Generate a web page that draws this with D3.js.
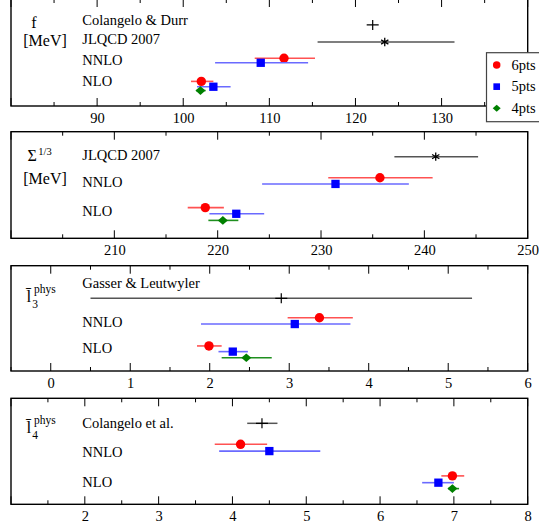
<!DOCTYPE html>
<html><head><meta charset="utf-8">
<script src="https://cdn.jsdelivr.net/npm/d3@7"></script>
<style>body{margin:0;background:#fff} svg text{font-family:'Liberation Serif','Tinos','Nimbus Roman','Times New Roman','DejaVu Serif',serif !important;fill:#000}</style>
</head><body><svg id="c" width="539" height="531" font-family="Liberation Serif"></svg>
<script>
// ---------- data ----------
const seriesNames = ["6pts", "5pts", "4pts"];

// panel 1 : f [MeV]
const fDomain = [80, 140];
const fTickLabels = [90, 100, 110, 120, 130];
const fRowNames = ["Colangelo & Durr", "JLQCD 2007", "NNLO", "NLO"];
const fRowPos = [3.99, 3.13, 2.15, 1.14];
// [series, value, low, high, row]
const fFits = [["6pts",111.7,108.3,115.3,2.23],["5pts",109.0,103.7,114.5,2.02],
               ["6pts",102.1,100.9,103.5,1.15],["5pts",103.5,101.6,105.5,0.90],["4pts",102.0,101.5,102.6,0.72]];
// [marker, value, low, high, row]
const fRefs = [["plus",122.0,null,null,3.79],["star",123.4,115.6,131.5,2.99]];

// panel 2 : Sigma^(1/3) [MeV]
const sDomain = [200, 250];
const sTickLabels = [210, 220, 230, 240, 250];
const sRowNames = ["JLQCD 2007", "NNLO", "NLO"];
const sRowPos = [3.88, 2.61, 1.28];
const sFits = [["6pts",235.7,230.7,240.8,2.84],["5pts",231.4,224.3,238.5,2.55],
               ["6pts",218.8,217.1,220.6,1.44],["5pts",221.8,219.2,224.5,1.15],["4pts",220.5,219.1,222.0,0.84]];
const sRefs = [["star",241.1,237.1,245.2,3.83]];

// panel 3 : l3 bar phys
const l3Domain = [-0.5, 6];
const l3TickLabels = [0, 1, 2, 3, 4, 5, 6];
const l3RowNames = ["Gasser & Leutwyler", "NNLO", "NLO"];
const l3RowPos = [4.15, 2.34, 1.09];
const l3Fits = [["6pts",3.38,2.98,3.80,2.53],["5pts",3.07,1.89,3.77,2.23],
                ["6pts",1.99,1.84,2.15,1.19],["5pts",2.29,2.11,2.48,0.92],["4pts",2.46,2.15,2.78,0.63]];
const l3Refs = [["plus",2.9,0.5,5.3,3.45]];

// panel 4 : l4 bar phys
const l4Domain = [1, 8];
const l4TickLabels = [2, 3, 4, 5, 6, 7, 8];
const l4RowNames = ["Colangelo et al.", "NNLO", "NLO"];
const l4RowPos = [3.83, 2.48, 1.05];
const l4Fits = [["6pts",4.11,3.76,4.47,2.83],["5pts",4.50,3.82,5.19,2.51],
                ["6pts",6.98,6.83,7.14,1.34],["5pts",6.79,6.57,7.00,1.02],["4pts",6.98,6.92,7.07,0.74]];
const l4Refs = [["plus",4.40,4.20,4.61,3.82]];

// ---------- style ----------
const FONT = "'Liberation Serif','Tinos','Nimbus Roman','Times New Roman','DejaVu Serif',serif";
const markColor = {"6pts":"#ff0000","5pts":"#0000ff","4pts":"#008000"};
const barColor = {"6pts":"#ff5252","5pts":"#6a6aff","4pts":"#1f8f1f"};
const left = 11, right = 527.7;
const panels = [
  {top:-1, bottom:106, domain:fDomain, step:5, labels:fTickLabels, rowNames:fRowNames, rowPos:fRowPos, fits:fFits, refs:fRefs, kind:"f"},
  {top:131.7, bottom:238.3, domain:sDomain, step:5, labels:sTickLabels, rowNames:sRowNames, rowPos:sRowPos, fits:sFits, refs:sRefs, kind:"s"},
  {top:265.7, bottom:371, domain:l3Domain, step:0.5, labels:l3TickLabels, rowNames:l3RowNames, rowPos:l3RowPos, fits:l3Fits, refs:l3Refs, kind:"l3"},
  {top:398.3, bottom:504.3, domain:l4Domain, step:0.5, labels:l4TickLabels, rowNames:l4RowNames, rowPos:l4RowPos, fits:l4Fits, refs:l4Refs, kind:"l4"}
];

const svg = d3.select("#c");

function drawMarker(g, series, x, y, scale) {
  const k = scale || 1;
  if (series === "6pts") {
    g.append("circle").attr("cx", x).attr("cy", y).attr("r", 4.7*k).attr("fill", markColor[series]);
  } else if (series === "5pts") {
    const s = 8.3*k;
    g.append("rect").attr("x", x-s/2).attr("y", y-s/2).attr("width", s).attr("height", s).attr("fill", markColor[series]);
  } else {
    const w = 5*k, h = 4.3*k;
    g.append("path").attr("d", `M${x-w},${y}L${x},${y-h}L${x+w},${y}L${x},${y+h}Z`).attr("fill", markColor[series]);
  }
}

panels.forEach(p => {
  const g = svg.append("g").attr("font-family", FONT);
  const x = d3.scaleLinear().domain(p.domain).range([left, right]);
  const y = d3.scaleLinear().domain([0, 5]).range([p.bottom, p.top]);
  const n = Math.round((p.domain[1]-p.domain[0])/p.step);
  const ticks = d3.range(n+1).map(i => p.domain[0] + i*p.step);
  const isMajor = v => Math.abs(v/(p.step*2) - Math.round(v/(p.step*2))) < 1e-6;

  g.selectAll("line.tb").data(ticks).join("line")
    .attr("x1", d => x(d)).attr("x2", d => x(d))
    .attr("y1", p.bottom).attr("y2", d => p.bottom - (isMajor(d) ? 8 : 4))
    .attr("stroke", "#000").attr("stroke-width", 1);
  g.selectAll("line.tt").data(ticks).join("line")
    .attr("x1", d => x(d)).attr("x2", d => x(d))
    .attr("y1", p.top).attr("y2", d => p.top + (isMajor(d) ? 8 : 4))
    .attr("stroke", "#000").attr("stroke-width", 1);
  const ax = g.append("g").attr("transform", `translate(0,${p.bottom})`)
    .call(d3.axisBottom(x).tickValues(p.labels).tickSize(0).tickPadding(0).tickFormat(d3.format("d")));
  ax.attr("font-family", FONT);
  ax.select(".domain").remove();
  ax.selectAll("text").attr("font-size", "14.5px").style("font-family", FONT).attr("dy", null).attr("y", 17).attr("fill", "#000");

  g.append("rect").attr("x", left).attr("y", p.top).attr("width", right-left).attr("height", p.bottom-p.top)
    .attr("fill", "none").attr("stroke", "#000").attr("stroke-width", 1.4);

  p.rowNames.forEach((name, i) => {
    g.append("text").attr("x", 82.3).attr("y", y(p.rowPos[i])).attr("dy", "0.33em")
      .attr("font-size", "14.5px").style("font-family", FONT).text(name);
  });

  p.refs.forEach(r => {
    const [marker, v, lo, hi, row] = r;
    const cx = x(v), cy = y(row);
    if (lo !== null) {
      g.append("line").attr("x1", x(lo)).attr("x2", x(hi)).attr("y1", cy).attr("y2", cy)
        .attr("stroke", "#555").attr("stroke-width", 1.5);
    }
    if (marker === "plus") {
      g.append("path").attr("d", `M${cx-6},${cy}H${cx+6}M${cx},${cy-5}V${cy+5}`)
        .attr("stroke", "#000").attr("stroke-width", 1.2);
    } else {
      const r0 = 4.2;
      let d = "";
      [90, 30, 150].forEach(a => {
        const dx = r0*Math.cos(a*Math.PI/180), dy = r0*Math.sin(a*Math.PI/180);
        d += `M${cx-dx},${cy-dy}L${cx+dx},${cy+dy}`;
      });
      g.append("path").attr("d", d).attr("stroke", "#000").attr("stroke-width", 1.3);
    }
  });

  p.fits.forEach(f => {
    const [s, v, lo, hi, row] = f;
    const cy = y(row);
    g.append("line").attr("x1", x(lo)).attr("x2", x(hi)).attr("y1", cy).attr("y2", cy)
      .attr("stroke", barColor[s]).attr("stroke-width", 1.6);
    drawMarker(g, s, x(v), cy);
  });

  const t = p.top;
  if (p.kind === "f") {
    g.append("text").attr("x", 34).attr("y", t+29).attr("text-anchor", "middle").attr("font-size", "16px").text("f");
    g.append("text").attr("x", 45).attr("y", t+47).attr("text-anchor", "middle").attr("font-size", "16px").text("[MeV]");
  } else if (p.kind === "s") {
    const tx = g.append("text").attr("x", 27.5).attr("y", t+29.5).attr("font-size", "16px");
    tx.append("tspan").text("Σ");
    tx.append("tspan").attr("font-size", "10.5px").attr("dx", 1.5).attr("dy", -6.5).text("1/3");
    g.append("text").attr("x", 45).attr("y", t+52).attr("text-anchor", "middle").attr("font-size", "16px").text("[MeV]");
  } else {
    const sub = p.kind === "l3" ? "3" : "4";
    const off = p.kind === "l3" ? 36.3 : 34.7;
    const tx = g.append("text").attr("x", 26.5).attr("y", t+off).attr("font-size", "17px");
    tx.append("tspan").text("l\u0304");
    tx.append("tspan").attr("font-size", "11.5px").attr("dx", 1).attr("dy", 6).text(sub);
    tx.append("tspan").attr("font-size", "11.5px").attr("dx", -4).attr("dy", -15).text("phys");
  }
});

// legend
const lg = svg.append("g").attr("font-family", FONT);
lg.append("rect").attr("x", 486.5).attr("y", 52.7).attr("width", 60).attr("height", 69)
  .attr("fill", "#fff").attr("stroke", "#444").attr("stroke-width", 1.2);
const legendY = d3.scalePoint().domain(seriesNames).range([65, 108.3]);
seriesNames.forEach(s => {
  drawMarker(lg, s, 496.7, legendY(s), 0.8);
  lg.append("text").attr("x", 511.5).attr("y", legendY(s)).attr("dy", "0.33em").attr("font-size", "14.5px").text(s);
});
</script></body></html>
